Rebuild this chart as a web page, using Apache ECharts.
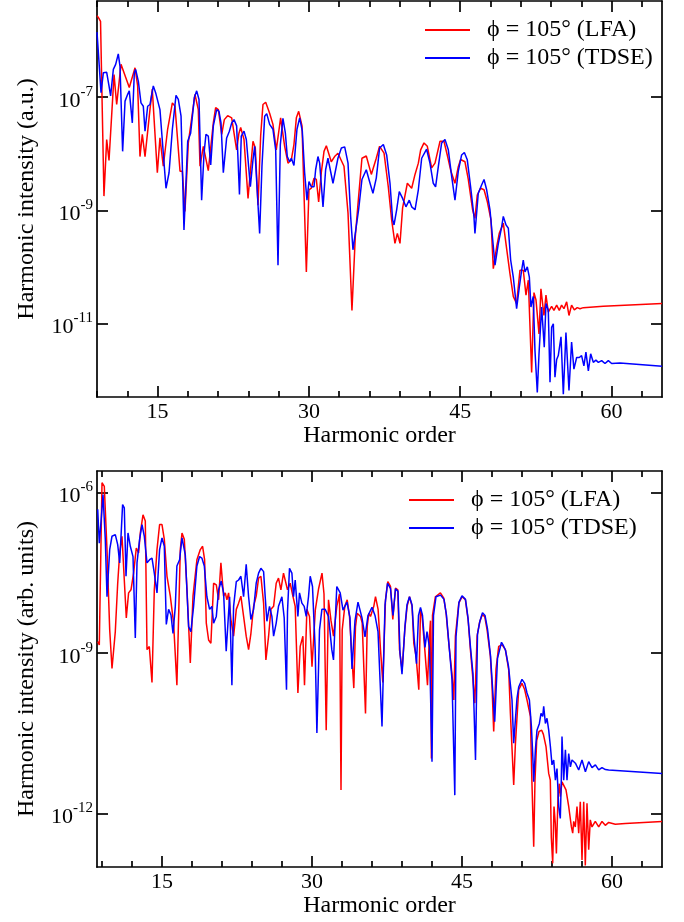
<!DOCTYPE html>
<html>
<head>
<meta charset="utf-8">
<script src="https://cdn.jsdelivr.net/npm/echarts@6/dist/echarts.min.js"></script>
<style>html,body{margin:0;padding:0;background:#fff}#c{width:684px;height:922px}</style>
</head>
<body>
<div id="c"></div>
<script>
// ---------- data (harmonic order, intensity) ----------
const seriesNames = ['ϕ = 105° (LFA)', 'ϕ = 105° (TDSE)'];
const xMajorTicks = [15, 30, 45, 60];
const xMinorTicks = [9, 12, 18, 21, 24, 27, 33, 36, 39, 42, 48, 51, 54, 57, 63];
const topYTicks = [1e-7, 1e-9, 1e-11];
const botYTicks = [1e-6, 1e-9, 1e-12];

const topLFA = [
[9.00,2.75e-6],[9.20,2.45e-6],[9.35,2.19e-6],[9.69,1.78e-9],[9.96,1.78e-8],[10.19,7.6e-9],[10.69,2.5e-7],[10.95,7.4e-8],
[11.38,3.8e-7],[12.20,1.48e-7],[12.77,3.3e-7],[13.03,1.58e-7],[13.26,8.9e-9],[13.49,2.2e-8],[13.76,8.9e-9],[14.25,6.0e-8],
[14.48,1.38e-7],[14.98,4.6e-9],[15.24,1.9e-8],[15.57,6.0e-9],[16.00,2.7e-8],[16.47,7.9e-8],[16.73,6.9e-8],[17.23,4.9e-9],
[17.46,4.9e-9],[17.72,9.5e-10],[18.05,1.55e-8],[18.71,1.12e-7],[19.04,6.0e-8],[19.21,6.0e-9],[19.54,1.35e-8],[20.03,5.0e-9],
[20.20,5.0e-9],[20.53,3.5e-8],[20.76,6.5e-8],[21.03,6.0e-8],[21.36,2.2e-8],[21.62,4.0e-8],[21.95,4.7e-8],[22.35,4.3e-8],
[22.68,1.78e-8],[22.84,1.17e-8],[23.07,2.3e-8],[23.24,2.9e-8],[23.57,1.78e-8],[23.97,1.62e-9],[24.46,1.66e-8],[24.69,1.26e-8],
[24.96,1.23e-9],[25.22,2.05e-8],[25.45,7.4e-8],[25.72,8.1e-8],[26.11,5.2e-8],[26.44,3.3e-8],[26.77,1.17e-8],[27.20,4.3e-8],
[27.60,1.35e-8],[27.93,6.8e-9],[28.26,7.8e-9],[28.52,1.45e-8],[28.76,4.3e-8],[28.99,5.6e-8],[29.32,3.1e-8],[29.75,8.1e-11],
[30.01,2.3e-9],[30.24,2.45e-9],[30.51,3.7e-9],[30.74,3.5e-9],[30.97,1.41e-9],[31.23,4.6e-9],[31.50,1.1e-8],[31.73,1.38e-8],
[32.22,7.2e-9],[32.55,8.9e-9],[32.88,1.02e-8],[33.48,6.0e-9],[33.88,8.9e-10],[34.27,1.7e-11],[34.60,3.4e-10],[34.93,1.74e-9],
[35.26,8.3e-9],[35.69,9.1e-9],[36.19,4.3e-9],[36.68,8.3e-9],[37.01,1.35e-8],[37.45,1.02e-8],[37.87,2.6e-9],[38.20,6.8e-10],
[38.53,2.6e-10],[38.77,3.9e-10],[39.03,2.6e-10],[39.29,1.1e-9],[39.76,3.0e-9],[40.19,2.45e-9],[40.52,4.3e-9],[40.85,6.8e-9],
[41.08,1.17e-8],[41.41,1.55e-8],[41.74,1.35e-8],[42.17,5.6e-9],[42.50,6.8e-9],[43.00,1.66e-8],[43.39,1.66e-8],[43.75,8.9e-9],
[44.08,4.9e-9],[44.48,3.0e-9],[44.81,5.9e-9],[45.04,7.9e-9],[45.47,7.2e-9],[45.80,3.5e-9],[46.23,1.02e-9],[46.46,7.2e-10],
[46.69,1.86e-9],[47.02,2.45e-9],[47.36,2.3e-9],[47.69,1.41e-9],[48.05,6.8e-10],[48.28,9.3e-11],[48.61,2.24e-10],[48.87,3.9e-10],
[49.27,5.9e-10],[49.60,2.1e-10],[49.93,7.6e-11],[50.26,3.0e-11],[50.59,2.24e-11],[50.92,8.7e-11],[51.25,8.7e-11],[51.52,3.16e-11],
[51.75,5.8e-11],[52.08,1.35e-12],[52.31,3.5e-11],[52.51,2.6e-11],[52.81,6.5e-12],[53.00,4.1e-11],[53.30,1.38e-11],[53.50,3.16e-11],
[53.73,1.58e-11],[54.06,2.0e-11],[54.29,1.7e-11],[54.56,2.1e-11],[54.82,1.7e-11],[55.05,2.1e-11],[55.28,1.82e-11],[55.55,2.4e-11],
[55.78,1.38e-11],[56.04,2.1e-11],[56.31,1.74e-11],[56.60,1.9e-11],[56.87,1.82e-11],[57.20,1.9e-11],[59.18,2.0e-11],[65.00,2.24e-11]
];

const topTDSE = [
[9.00,1.41e-6],[9.40,1.2e-7],[9.63,2.7e-7],[9.96,2.75e-7],[10.19,1.58e-7],[10.35,1.05e-7],[10.62,3.1e-7],[10.85,3.8e-7],
[11.11,5.8e-7],[11.28,3.5e-7],[11.54,1.1e-8],[11.78,8.5e-8],[12.04,1.12e-7],[12.20,1.29e-7],[12.50,3.5e-8],[12.70,2.7e-7],
[12.83,3.1e-7],[13.10,1.9e-7],[13.36,7.9e-8],[13.59,6.9e-8],[13.76,2.5e-8],[14.02,6.9e-8],[14.25,7.4e-8],[14.58,1.58e-7],
[14.81,1.2e-7],[15.24,6.0e-8],[15.57,1.02e-8],[15.84,2.45e-9],[16.14,4.6e-9],[16.47,2.7e-8],[16.83,1.07e-7],[17.06,9.1e-8],
[17.33,4.6e-8],[17.62,4.5e-10],[17.99,1.66e-8],[18.28,2.3e-8],[18.65,9.8e-8],[18.88,1.29e-7],[19.11,9.1e-8],[19.37,1.51e-9],
[19.61,1.02e-8],[19.80,2.2e-8],[20.03,2.05e-8],[20.27,6.3e-9],[20.53,3.1e-8],[20.86,6.0e-8],[21.09,5.6e-8],[21.29,3.5e-8],
[21.52,4.6e-9],[21.85,1.9e-8],[22.12,2.5e-8],[22.35,3.5e-8],[22.58,4.0e-8],[22.84,3.1e-8],[23.12,1.9e-9],[23.30,2.05e-8],
[23.57,2.5e-8],[23.80,1.78e-8],[24.20,2.6e-9],[24.46,7.8e-9],[24.63,1.35e-8],[24.79,1.26e-8],[25.12,3.9e-10],[25.35,6.0e-9],
[25.62,4.6e-8],[25.82,5.1e-8],[26.11,3.3e-8],[26.44,2.7e-8],[26.71,1.17e-8],[26.94,1.07e-10],[27.17,1.45e-8],[27.43,4.2e-8],
[27.67,2.3e-8],[27.86,8.9e-9],[28.09,7.2e-9],[28.26,8.3e-9],[28.52,6.2e-9],[28.82,2.7e-8],[29.09,4.3e-8],[29.35,2.5e-8],
[29.58,4.6e-9],[29.81,1.51e-9],[30.01,3.2e-9],[30.24,2.6e-9],[30.51,2.6e-9],[30.67,5.2e-9],[30.90,8.9e-9],[31.07,6.8e-9],
[31.40,1.15e-9],[31.66,5.2e-9],[31.89,8.3e-9],[32.39,3.0e-9],[32.88,8.3e-9],[33.22,1.26e-8],[33.55,1.32e-8],[33.88,6.8e-9],
[34.14,7.8e-10],[34.37,2.0e-10],[34.60,3.9e-10],[34.93,1.02e-9],[35.26,3.5e-9],[35.69,5.2e-9],[36.02,3.2e-9],[36.35,2.0e-9],
[36.68,3.7e-9],[37.01,1.26e-8],[37.38,1.45e-8],[37.71,9.5e-9],[38.04,3.0e-9],[38.30,6.8e-10],[38.44,5.5e-10],[38.70,1.02e-9],
[38.96,2.14e-9],[39.29,1.62e-9],[39.62,1.15e-9],[39.95,1.51e-9],[40.19,1.15e-9],[40.52,1.02e-9],[40.85,2.3e-9],[41.18,8.3e-9],
[41.67,1.2e-8],[42.00,6.8e-9],[42.33,3.0e-9],[42.56,2.6e-9],[42.83,5.9e-9],[43.16,1.55e-8],[43.49,1.78e-8],[43.82,1.17e-8],
[44.15,4.0e-9],[44.48,1.51e-9],[44.81,4.9e-9],[45.14,9.5e-9],[45.41,1.05e-8],[45.70,7.8e-9],[46.03,2.6e-9],[46.36,7.8e-10],
[46.46,3.9e-10],[46.79,2.0e-9],[47.12,2.8e-9],[47.36,3.5e-9],[47.62,2.3e-9],[47.95,1.02e-9],[48.22,3.0e-10],[48.45,1.07e-10],
[48.78,2.6e-10],[49.11,5.1e-10],[49.27,7.8e-10],[49.54,5.5e-10],[49.77,4.8e-10],[50.00,1.32e-10],[50.26,6.6e-11],[50.59,1.82e-11],
[50.86,4.4e-11],[51.09,8.7e-11],[51.25,1.32e-10],[51.42,8.1e-11],[51.65,1.0e-10],[51.85,6.6e-11],[52.01,1.95e-11],[52.24,3.0e-11],
[52.41,3.3e-12],[52.64,6.0e-13],[52.81,2.9e-12],[53.07,1.95e-11],[53.33,3.8e-12],[53.50,2.24e-11],[53.73,1.7e-11],[53.90,9.1e-13],
[54.06,8.5e-12],[54.23,9.8e-12],[54.39,1.12e-12],[54.56,2.3e-12],[54.72,2.7e-12],[54.99,5.8e-12],[55.22,5.6e-13],[55.48,6.9e-12],
[55.78,6.5e-13],[56.04,4.7e-12],[56.27,1.55e-12],[56.54,2.5e-12],[56.80,2.5e-12],[57.03,2.7e-12],[57.26,1.78e-12],[57.46,3.1e-12],
[57.70,1.45e-12],[57.93,2.9e-12],[58.19,2.05e-12],[58.45,2.24e-12],[58.69,2.05e-12],[59.02,2.2e-12],[59.35,1.95e-12],[59.68,2.2e-12],
[60.01,1.95e-12],[60.83,2.0e-12],[65.00,1.74e-12]
];

const botLFA = [
[8.57,1.62e-9],[8.73,1.41e-9],[9.00,1.51e-6],[9.23,1.29e-6],[9.50,8.5e-8],[9.77,2.7e-9],[10.00,5.1e-10],[10.33,2.5e-9],
[10.57,2.0e-8],[10.77,7.4e-8],[11.00,1.51e-7],[11.17,1.41e-7],[11.43,4.5e-9],[11.66,1.32e-8],[11.90,1.51e-8],[12.16,3.1e-8],
[12.43,9.1e-8],[12.66,7.4e-8],[12.83,1.74e-7],[13.10,3.8e-7],[13.33,2.9e-7],[13.50,1.15e-9],[13.73,1.32e-9],[14.00,2.8e-10],
[14.23,1.51e-8],[14.50,8.5e-8],[14.76,2.5e-7],[15.00,2.5e-7],[15.23,1.32e-7],[15.50,2.7e-8],[15.83,1.15e-8],[16.16,3.6e-9],
[16.49,2.5e-10],[16.83,8.5e-8],[17.00,1.74e-7],[17.23,1.32e-7],[17.50,1.51e-8],[17.83,6.5e-10],[18.10,1.15e-8],[18.49,5.5e-8],
[18.83,8.5e-8],[19.06,9.8e-8],[19.26,5.5e-8],[19.43,3.6e-9],[19.66,1.74e-9],[19.89,1.51e-9],[20.16,2.0e-8],[20.43,1.86e-8],
[20.66,9.8e-9],[20.89,4.8e-8],[21.16,1.15e-8],[21.33,1.32e-8],[21.49,9.8e-9],[21.66,1.32e-8],[21.89,4.2e-9],[22.16,2.05e-9],
[22.43,6.5e-9],[22.66,8.5e-9],[22.89,1.15e-8],[23.16,4.8e-9],[23.42,2.05e-9],[23.66,1.15e-9],[23.89,2.3e-9],[24.16,7.4e-9],
[24.42,1.15e-8],[24.66,2.5e-8],[24.89,2.7e-8],[25.16,8.5e-9],[25.39,7.4e-10],[25.66,2.05e-9],[25.89,6.5e-9],[26.16,7.4e-9],
[26.42,2.0e-8],[26.65,2.5e-8],[26.89,1.51e-8],[27.15,3.1e-8],[27.32,3.3e-8],[27.55,1.51e-8],[27.82,2.0e-8],[28.09,1.15e-8],
[28.32,7.4e-9],[28.59,1.78e-10],[28.82,1.32e-9],[29.09,2.05e-9],[29.25,2.5e-10],[29.49,6.5e-9],[29.75,4.8e-9],[30.00,5.5e-10],
[30.33,6.3e-9],[30.66,1.58e-8],[31.00,3.1e-8],[31.20,1.26e-8],[31.42,3.6e-11],[31.65,9.8e-9],[31.90,4.0e-9],[32.15,2.05e-9],
[32.48,7.4e-9],[32.75,1.26e-8],[32.90,2.75e-12],[33.02,2.7e-9],[33.28,7.4e-9],[33.52,9.8e-9],[33.75,4.8e-9],[34.18,2.2e-10],
[34.35,3.1e-9],[34.52,5.5e-9],[34.85,4.8e-9],[35.02,3.6e-9],[35.35,7.4e-11],[35.52,3.1e-9],[35.68,5.5e-9],[35.85,4.8e-9],
[36.18,7.4e-9],[36.35,1.12e-8],[36.61,6.5e-9],[36.85,1.15e-9],[37.08,2.8e-10],[37.35,9.8e-9],[37.58,2.14e-8],[37.85,1.74e-8],
[38.08,4.2e-9],[38.35,1.62e-8],[38.58,1.51e-8],[38.75,1.15e-9],[39.01,4.8e-10],[39.28,2.7e-9],[39.51,7.4e-9],[39.75,1.12e-8],
[40.01,7.4e-9],[40.18,1.51e-9],[40.41,8.5e-10],[40.68,2.05e-10],[40.85,6.5e-9],[41.01,4.8e-9],[41.28,1.15e-9],[41.55,2.5e-10],
[41.74,2.05e-9],[41.85,4.0e-9],[41.94,1.07e-11],[42.05,5.0e-9],[42.34,1.12e-8],[42.84,1.32e-8],[43.18,1.05e-8],[43.41,5.5e-9],
[43.68,1.51e-9],[44.00,4.0e-10],[44.18,1.32e-10],[44.34,2.05e-9],[44.68,8.5e-9],[45.01,1.12e-8],[45.34,9.8e-9],[45.61,4.2e-9],
[45.84,1.15e-9],[46.05,4.0e-10],[46.28,1.15e-10],[46.51,2.05e-9],[46.74,3.6e-9],[47.01,5.1e-9],[47.27,4.8e-9],[47.51,2.7e-9],
[47.84,8.5e-10],[48.00,2.5e-10],[48.17,3.4e-11],[48.40,5.0e-10],[48.67,1.32e-9],[49.01,1.41e-9],[49.34,1.15e-9],[49.67,4.8e-10],
[49.84,7.4e-11],[50.17,3.4e-12],[50.34,2.0e-11],[50.67,2.05e-10],[51.00,2.7e-10],[51.27,2.05e-10],[51.50,1.32e-10],[51.84,6.5e-11],
[51.97,5.6e-12],[52.17,2.4e-13],[52.30,4.2e-12],[52.47,2.3e-11],[52.70,3.4e-11],[52.97,3.6e-11],[53.14,3.0e-11],[53.40,1.78e-11],
[53.67,5.6e-12],[53.83,4.2e-12],[53.93,3.6e-13],[54.07,1.17e-13],[54.20,1.35e-12],[54.33,6.5e-13],[54.44,1.78e-13],[54.60,2.05e-12],
[54.73,3.6e-12],[54.83,2.05e-12],[55.00,3.9e-12],[55.17,3.6e-12],[55.40,2.75e-12],[55.67,1.35e-12],[55.94,5.6e-13],[56.07,4.3e-13],
[56.17,7.1e-13],[56.33,5.6e-13],[56.50,1.35e-12],[56.67,4.3e-13],[56.83,1.66e-12],[57.00,1.35e-13],[57.17,1.66e-12],[57.33,1.07e-13],
[57.50,1.55e-12],[57.67,2.1e-13],[57.83,7.6e-13],[58.00,5.6e-13],[58.33,7.1e-13],[58.67,5.6e-13],[59.00,7.1e-13],[59.33,6.0e-13],
[59.67,6.8e-13],[60.33,6.3e-13],[61.33,6.5e-13],[65.00,7.1e-13]
];

const botTDSE = [
[8.57,4.8e-7],[8.73,1.12e-7],[8.93,3.3e-7],[9.10,9.1e-7],[9.33,1.32e-7],[9.50,1.12e-8],[9.77,8.5e-8],[10.00,1.51e-7],
[10.33,1.62e-7],[10.57,1.05e-7],[10.77,4.8e-8],[10.90,4.5e-8],[11.06,5.9e-7],[11.23,5.1e-7],[11.40,2.7e-8],[11.60,1.74e-7],
[11.83,9.8e-8],[12.10,6.3e-8],[12.33,1.9e-9],[12.50,4.8e-8],[12.76,1.32e-7],[13.00,2.5e-7],[13.23,1.51e-7],[13.50,4.8e-8],
[13.76,5.5e-8],[14.00,5.9e-8],[14.23,3.1e-8],[14.50,1.32e-8],[14.76,8.5e-8],[15.00,1.41e-7],[15.23,9.8e-8],[15.43,3.4e-9],
[15.66,6.5e-9],[15.90,5.1e-9],[16.10,2.3e-9],[16.33,7.4e-9],[16.49,4.2e-8],[16.76,5.5e-8],[17.00,1.41e-7],[17.16,1.51e-7],
[17.33,6.8e-8],[17.66,3.1e-9],[17.89,2.5e-9],[18.16,7.4e-9],[18.49,4.2e-8],[18.76,6.3e-8],[18.99,5.9e-8],[19.23,4.2e-8],
[19.49,1.12e-8],[19.76,6.5e-9],[19.99,7.4e-9],[20.16,3.6e-9],[20.43,4.8e-9],[20.66,1.51e-8],[20.92,2.2e-8],[21.16,1.32e-8],
[21.42,1.07e-9],[21.76,1.12e-8],[21.99,2.5e-10],[22.16,7.4e-9],[22.43,2.14e-8],[22.66,2.3e-8],[22.89,2.7e-8],[23.16,1.12e-8],
[23.42,4.5e-8],[23.66,1.12e-8],[23.89,4.2e-9],[24.16,6.5e-9],[24.42,2.0e-8],[24.66,3.1e-8],[24.89,3.8e-8],[25.16,3.3e-8],
[25.32,1.12e-8],[25.49,3.9e-9],[25.75,7.4e-9],[25.99,4.8e-9],[26.16,2.05e-9],[26.42,3.6e-9],[26.65,7.4e-9],[26.99,1.12e-8],
[27.22,4.5e-9],[27.45,2.05e-10],[27.55,5.9e-9],[27.75,3.8e-8],[27.99,3.1e-8],[28.15,1.12e-8],[28.32,2.3e-8],[28.59,4.8e-9],
[28.75,1.32e-8],[28.99,8.5e-9],[29.22,7.4e-9],[29.42,4.8e-9],[29.65,1.12e-8],[29.82,2.7e-8],[30.05,1.74e-8],[30.32,1.15e-9],
[30.49,3.2e-11],[30.75,2.7e-9],[30.99,6.5e-9],[31.32,6.5e-9],[31.65,4.8e-9],[31.98,1.15e-9],[32.15,7.4e-10],[32.48,1.74e-8],
[32.82,1.32e-8],[33.10,6.3e-9],[33.50,8.9e-9],[33.80,4.5e-9],[34.00,5.0e-10],[34.30,4.0e-9],[34.60,8.9e-9],[35.00,4.5e-9],
[35.30,2.0e-9],[35.60,5.0e-9],[36.00,7.1e-9],[36.30,5.0e-9],[36.60,2.5e-9],[37.00,4.2e-11],[37.30,7.9e-9],[37.55,2.0e-8],
[37.85,1.58e-8],[38.10,5.0e-9],[38.35,1.58e-8],[38.60,1.41e-8],[38.80,1.0e-9],[39.00,4.0e-10],[39.30,3.2e-9],[39.50,7.9e-9],
[39.75,1.12e-8],[40.00,7.9e-9],[40.20,2.0e-9],[40.45,6.3e-10],[40.65,5.0e-9],[40.85,7.1e-9],[41.05,5.0e-9],[41.30,1.26e-9],
[41.50,2.5e-9],[41.75,1.26e-9],[42.00,9.3e-12],[42.15,5.0e-9],[42.40,1.12e-8],[42.85,1.2e-8],[43.20,1.0e-8],[43.45,5.0e-9],
[43.70,1.41e-9],[44.00,3.2e-10],[44.28,2.2e-12],[44.40,2.0e-9],[44.70,8.9e-9],[45.00,1.17e-8],[45.35,1.0e-8],[45.60,4.5e-9],
[45.85,1.26e-9],[46.10,4.0e-10],[46.35,1.0e-11],[46.55,2.24e-9],[46.80,4.0e-9],[47.05,5.6e-9],[47.30,5.0e-9],[47.55,2.8e-9],
[47.85,8.9e-10],[48.27,5.2e-11],[48.55,7.9e-10],[48.75,1.12e-9],[48.95,1.58e-9],[49.10,1.41e-9],[49.35,1.12e-9],[49.65,5.6e-10],
[50.00,1.32e-10],[50.17,2.05e-11],[50.34,5.6e-11],[50.50,1.41e-10],[50.67,2.3e-10],[51.00,3.2e-10],[51.27,2.7e-10],[51.50,1.78e-10],
[51.74,1.32e-10],[51.94,4.2e-11],[52.07,1.32e-11],[52.17,3.9e-12],[52.34,1.55e-11],[52.50,3.6e-11],[52.74,4.8e-11],[52.90,7.4e-11],
[53.07,6.5e-11],[53.17,1.0e-10],[53.34,4.8e-11],[53.50,6.0e-11],[53.67,3.6e-11],[53.84,1.78e-11],[54.00,8.1e-12],[54.17,1.0e-11],
[54.34,4.2e-12],[54.50,6.9e-12],[54.67,1.35e-12],[54.83,8.1e-13],[54.93,4.2e-12],[55.00,2.75e-11],[55.17,4.2e-12],[55.34,1.55e-11],
[55.50,4.2e-12],[55.67,1.32e-11],[55.84,7.4e-12],[56.00,1.0e-11],[56.34,8.7e-12],[56.67,6.5e-12],[57.00,1.0e-11],[57.34,6.0e-12],
[57.67,9.3e-12],[58.00,7.2e-12],[58.34,8.1e-12],[58.67,6.5e-12],[59.00,7.2e-12],[59.34,6.6e-12],[59.67,6.5e-12],[65.00,5.6e-12]
];

// ---------- chart ----------
const FONT = 'Liberation Serif';
const BLACK = '#000';
const RED = '#ff0000';
const BLUE = '#0000ff';
const chart = echarts.init(document.getElementById('c'), null, {renderer: 'canvas'});

function expLabel(v) {
  const e = Math.round(Math.log10(v));
  return '{b|10}{s|' + e + '}';
}
const richY = {
  b: {fontFamily: FONT, fontSize: 22, color: BLACK, padding: [8, 0, 0, 0]},
  s: {fontFamily: FONT, fontSize: 15, color: BLACK, padding: [0, 0, 10, 0]}
};
const lineStyleAxis = {color: BLACK, width: 1.7};

function xAxes(grid, min, nameGap) {
  const base = {gridIndex: grid, type: 'value', min: min, max: 65, splitLine: {show: false}};
  return [
    Object.assign({}, base, {position: 'bottom',
      axisLine: {show: true, onZero: false, lineStyle: lineStyleAxis},
      axisTick: {show: true, inside: true, length: 11, lineStyle: lineStyleAxis, customValues: xMajorTicks},
      axisLabel: {show: true, margin: 4, fontFamily: FONT, fontSize: 22, color: BLACK, customValues: xMajorTicks},
      name: 'Harmonic order', nameLocation: 'middle', nameGap: nameGap,
      nameTextStyle: {fontFamily: FONT, fontSize: 24, color: BLACK}}),
    Object.assign({}, base, {position: 'bottom',
      axisLine: {show: false, onZero: false},
      axisTick: {show: true, inside: true, length: 6, lineStyle: lineStyleAxis, customValues: xMinorTicks},
      axisLabel: {show: false}}),
    Object.assign({}, base, {position: 'top',
      axisLine: {show: true, onZero: false, lineStyle: lineStyleAxis},
      axisTick: {show: true, inside: true, length: 11, lineStyle: lineStyleAxis, customValues: xMajorTicks},
      axisLabel: {show: false}}),
    Object.assign({}, base, {position: 'top',
      axisLine: {show: false, onZero: false},
      axisTick: {show: true, inside: true, length: 6, lineStyle: lineStyleAxis, customValues: xMinorTicks},
      axisLabel: {show: false}})
  ];
}
function yAxes(grid, min, max, ticks, name) {
  const base = {gridIndex: grid, type: 'log', logBase: 10, min: min, max: max, splitLine: {show: false}};
  return [
    Object.assign({}, base, {position: 'left',
      axisLine: {show: true, onZero: false, lineStyle: lineStyleAxis},
      axisTick: {show: true, inside: true, length: 11, lineStyle: lineStyleAxis, customValues: ticks},
      axisLabel: {show: true, margin: 4, formatter: expLabel, rich: richY, customValues: ticks},
      name: name, nameLocation: 'middle', nameGap: 58,
      nameTextStyle: {fontFamily: FONT, fontSize: 24, color: BLACK}}),
    Object.assign({}, base, {position: 'right',
      axisLine: {show: true, onZero: false, lineStyle: lineStyleAxis},
      axisTick: {show: true, inside: true, length: 11, lineStyle: lineStyleAxis, customValues: ticks},
      axisLabel: {show: false}})
  ];
}
function lineSeries(name, data, color, xi, yi) {
  return {name: name, type: 'line', data: data, xAxisIndex: xi, yAxisIndex: yi,
    showSymbol: false, symbol: 'none', animation: false,
    lineStyle: {color: color, width: 1.5}, itemStyle: {color: color}};
}
function legend(left, top) {
  return {show: true, orient: 'vertical', left: left, top: top, data: seriesNames,
    icon: 'rect', itemWidth: 45, itemHeight: 2, itemGap: 4,
    textStyle: {fontFamily: FONT, fontSize: 24, lineHeight: 24, color: BLACK, padding: [0, 0, 0, 12]},
    selectedMode: false};
}

chart.setOption({
  animation: false,
  backgroundColor: '#fff',
  grid: [
    {left: 97, top: 1, width: 565, height: 396},
    {left: 97, top: 471, width: 565, height: 396}
  ],
  xAxis: [].concat(xAxes(0, 9, 24), xAxes(1, 8.5, 24)),
  yAxis: [].concat(yAxes(0, 5e-13, 5e-6, topYTicks, 'Harmonic intensity (a.u.)'),
                   yAxes(1, 1e-13, 2.5e-6, botYTicks, 'Harmonic intensity (arb. units)')),
  legend: [legend(420, 13), legend(404, 483)],
  series: [
    lineSeries(seriesNames[0], topLFA, RED, 0, 0),
    lineSeries(seriesNames[1], topTDSE, BLUE, 0, 0),
    lineSeries(seriesNames[0], botLFA, RED, 4, 2),
    lineSeries(seriesNames[1], botTDSE, BLUE, 4, 2)
  ]
});
</script>
</body>
</html>
